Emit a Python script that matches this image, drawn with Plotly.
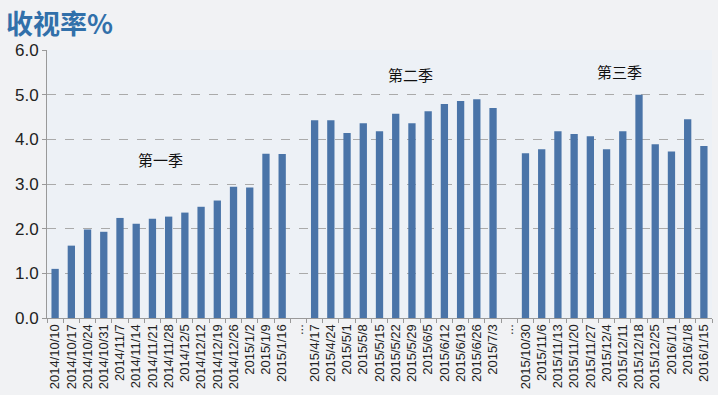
import plotly.graph_objects as go

season1_dates = ["2014/10/10", "2014/10/17", "2014/10/24", "2014/10/31", "2014/11/7",
                 "2014/11/14", "2014/11/21", "2014/11/28", "2014/12/5", "2014/12/12",
                 "2014/12/19", "2014/12/26", "2015/1/2", "2015/1/9", "2015/1/16"]
season1_vals = [1.10, 1.62, 1.98, 1.93, 2.24, 2.11, 2.22, 2.27, 2.36, 2.49,
                2.63, 2.94, 2.92, 3.68, 3.67]
season2_dates = ["2015/4/17", "2015/4/24", "2015/5/1", "2015/5/8", "2015/5/15", "2015/5/22",
                 "2015/5/29", "2015/6/5", "2015/6/12", "2015/6/19", "2015/6/26", "2015/7/3"]
season2_vals = [4.43, 4.43, 4.14, 4.36, 4.18, 4.57, 4.36, 4.63, 4.79, 4.86, 4.90, 4.70]
season3_dates = ["2015/10/30", "2015/11/6", "2015/11/13", "2015/11/20", "2015/11/27", "2015/12/4",
                 "2015/12/11", "2015/12/18", "2015/12/25", "2016/1/1", "2016/1/8", "2016/1/15"]
season3_vals = [3.69, 3.78, 4.18, 4.12, 4.07, 3.78, 4.18, 5.00, 3.89, 3.73, 4.45, 3.85]
gap_labels = ["...", "...\u200b"]
season_names = ["第一季", "第二季", "第三季"]
season_label_pos = [(6.5, 3.54), (21.9, 5.45), (34.8, 5.52)]
y_ticks = [0, 1, 2, 3, 4, 5, 6]

categories = season1_dates + [gap_labels[0]] + season2_dates + [gap_labels[1]] + season3_dates
values = season1_vals + [None] + season2_vals + [None] + season3_vals

fig = go.Figure(go.Bar(x=categories, y=values, marker_color="#4a74a8", marker_line_width=0))

for name, (xp, yp) in zip(season_names, season_label_pos):
    fig.add_annotation(x=xp, y=yp, text=name, showarrow=False,
                       font=dict(family="Noto Sans CJK SC", size=15, color="#111"))

fig.add_annotation(xref="paper", yref="paper", x=-0.064, y=1.0, yshift=28,
                   xanchor="left", yanchor="middle",
                   text="<b>收视率%</b>", showarrow=False,
                   font=dict(family="Noto Sans CJK SC", size=27, color="#3170aa"))

fig.update_layout(
    width=718, height=395,
    margin=dict(l=47, r=6, t=50, b=77),
    paper_bgcolor="#f1f2f4",
    plot_bgcolor="#edf1f6",
    bargap=0.55,
    showlegend=False,
    font=dict(family="Arial, Liberation Sans", color="#222"),
    xaxis=dict(type="category", tickangle=-90, tickfont=dict(size=13, color="#222"),
               showline=True, linecolor="#999", linewidth=1, ticks="outside",
               tickson="boundaries", ticklen=4, tickcolor="#999", showgrid=False,
               range=[-0.5, len(categories) - 0.5]),
    yaxis=dict(range=[0, 6], tickvals=y_ticks, tickformat=".1f",
               tickfont=dict(size=17, color="#222"), showline=True, linecolor="#999",
               ticks="outside", ticklen=4, tickcolor="#999",
               showgrid=True, gridcolor="#aaaaaa", griddash="dash", gridwidth=1,
               zeroline=False),
)

fig.write_html(
    "out.html",
    config={"displayModeBar": False},
    post_script="document.body.style.margin='0';document.body.style.background='#f1f2f4';",
)
